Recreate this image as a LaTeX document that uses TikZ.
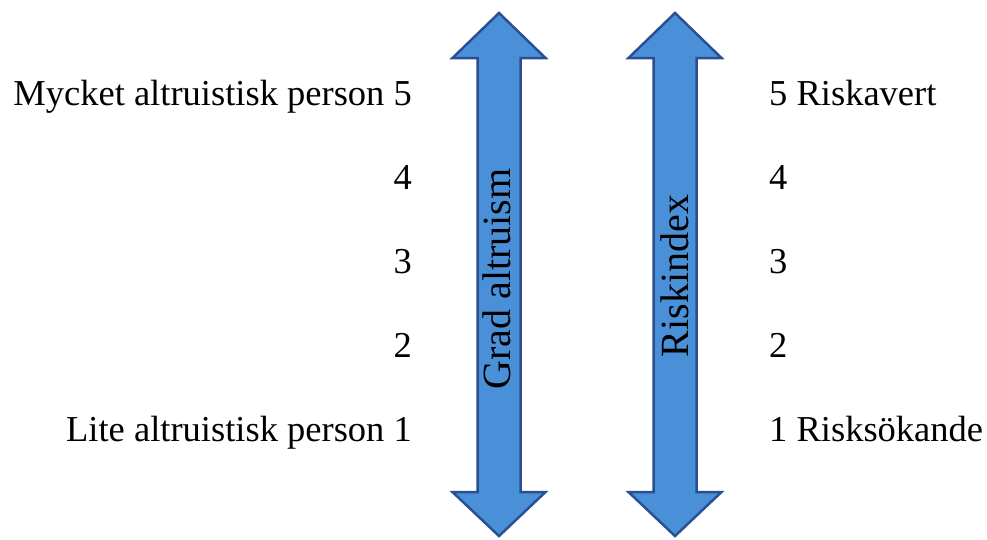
\documentclass[tikz,border=0pt]{standalone}
\usepackage{fontspec}
\setmainfont{Liberation Serif}
\usetikzlibrary{calc}
\definecolor{arrowfill}{RGB}{74,144,217}
\definecolor{arrowline}{RGB}{42,80,148}
\def\dblarrow(#1){\draw[line width=2.5pt, draw=arrowline, fill=arrowfill] (#1-21.5, 58) -- (#1-46.5, 58) -- (#1, 13) -- (#1+46.5, 58) -- (#1+21.5, 58) -- (#1+21.5, 492) -- (#1+46.5, 492) -- (#1, 536) -- (#1-46.5, 492) -- (#1-21.5, 492) -- cycle;}

\begin{document}
\begin{tikzpicture}[x=1pt, y=-1pt,
	lbl/.style={inner sep=0pt, font=\fontsize{36.5}{40}\selectfont},
	axislbl/.style={inner sep=0pt, rotate=90, font=\fontsize{40}{44}\selectfont}]
			%%%%% START %%%%%
			
			\useasboundingbox (0, 0) rectangle (987, 539);
			
			\dblarrow(499)
			\dblarrow(675)
			
			\node[axislbl] (altruism) at (497, 279) {Grad altruism};
			\node[axislbl] (risk) at (675, 276) {Riskindex};
			
			\node[lbl, anchor=base east] (alt5) at (412, 105) {Mycket altruistisk person 5};
			\node[lbl, anchor=base east] (alt4) at (412, 189) {4};
			\node[lbl, anchor=base east] (alt3) at (412, 273) {3};
			\node[lbl, anchor=base east] (alt2) at (412, 357) {2};
			\node[lbl, anchor=base east] (alt1) at (412, 441) {Lite altruistisk person 1};
			
			\node[lbl, anchor=base west] (risk5) at (769, 105) {5 Riskavert};
			\node[lbl, anchor=base west] (risk4) at (769, 189) {4};
			\node[lbl, anchor=base west] (risk3) at (769, 273) {3};
			\node[lbl, anchor=base west] (risk2) at (769, 357) {2};
			\node[lbl, anchor=base west] (risk1) at (769, 441) {1 Risksökande};
			
			%%%%% END %%%%%
\end{tikzpicture}
\end{document}
